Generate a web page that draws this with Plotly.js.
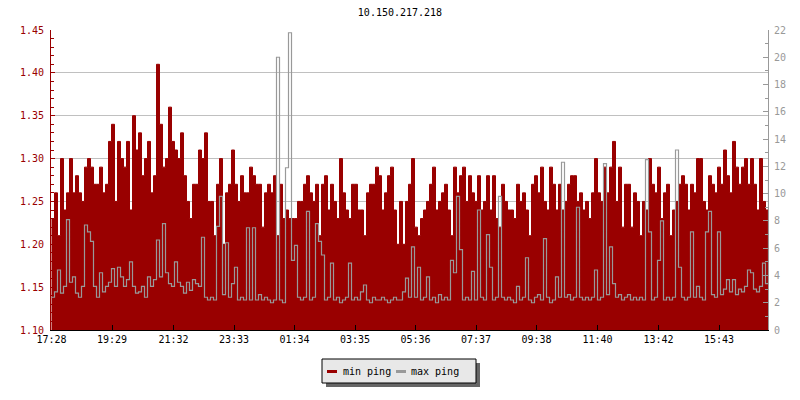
<!DOCTYPE html>
<html>
<head>
<meta charset="utf-8">
<script src="https://cdn.plot.ly/plotly-3.0.1.min.js"></script>
<style>
html, body { margin: 0; padding: 0; background: #ffffff; }
#chart { width: 800px; height: 400px; }
</style>
</head>
<body>
<div id="chart"></div>
<script>
const chartTitle = "10.150.217.218";
const startTime = "17:28";
const stepMinutes = 6;
const tickLabels = ["17:28","19:29","21:32","23:33","01:34","03:35","05:36","07:37","09:38","11:40","13:42","15:43"];
const seriesNames = ["min ping", "max ping"];

const minPing = [
1.23,1.26,1.21,1.30,1.24,1.26,1.30,1.26,1.28,1.26,
1.25,1.29,1.30,1.29,1.27,1.27,1.29,1.26,1.27,1.32,
1.34,1.25,1.32,1.30,1.29,1.32,1.24,1.35,1.31,1.33,
1.28,1.30,1.32,1.26,1.28,1.41,1.34,1.29,1.30,1.36,
1.32,1.31,1.30,1.33,1.28,1.25,1.23,1.27,1.27,1.31,
1.30,1.33,1.25,1.25,1.21,1.27,1.30,1.20,1.26,1.27,
1.31,1.27,1.25,1.28,1.26,1.26,1.29,1.28,1.27,1.27,
1.22,1.26,1.27,1.26,1.28,1.21,1.27,1.23,1.24,1.23,
1.23,1.23,1.25,1.25,1.27,1.28,1.26,1.25,1.27,1.21,
1.27,1.28,1.24,1.27,1.25,1.23,1.30,1.26,1.24,1.23,
1.27,1.27,1.24,1.24,1.21,1.26,1.27,1.27,1.29,1.28,
1.24,1.26,1.28,1.29,1.24,1.20,1.25,1.20,1.25,1.27,
1.30,1.22,1.21,1.23,1.24,1.25,1.27,1.29,1.24,1.25,
1.26,1.27,1.24,1.21,1.29,1.26,1.28,1.29,1.25,1.28,
1.26,1.25,1.28,1.24,1.25,1.28,1.24,1.28,1.23,1.22,
1.27,1.25,1.24,1.24,1.23,1.27,1.25,1.26,1.24,1.21,
1.27,1.28,1.26,1.29,1.25,1.24,1.29,1.27,1.24,1.27,
1.24,1.25,1.27,1.28,1.28,1.25,1.26,1.24,1.25,1.23,
1.26,1.30,1.26,1.25,1.29,1.26,1.29,1.32,1.25,1.29,
1.22,1.27,1.27,1.22,1.26,1.25,1.21,1.25,1.24,1.30,
1.27,1.26,1.29,1.23,1.26,1.27,1.21,1.24,1.25,1.27,
1.28,1.27,1.24,1.27,1.26,1.30,1.30,1.25,1.24,1.28,
1.27,1.26,1.29,1.27,1.31,1.28,1.26,1.32,1.29,1.27,
1.29,1.30,1.27,1.30,1.27,1.24,1.30,1.25,1.24,1.30
];

const maxPing = [
2.4,2.8,4.4,2.7,3.2,8.1,3.5,3.9,2.7,2.4,
3.2,7.7,7.2,6.5,3.2,2.4,4.2,2.8,3.2,3.5,
4.5,3.2,4.6,3.9,3.2,3.7,5.0,3.2,2.7,2.8,
3.2,2.4,3.9,3.2,3.7,6.6,3.9,7.8,4.2,3.4,
3.2,5.0,3.5,3.2,2.7,3.5,2.9,3.7,3.4,3.2,
6.8,2.4,2.2,2.4,2.2,7.6,9.8,2.6,6.4,2.4,
3.4,4.6,2.2,2.4,2.2,7.5,2.2,7.5,2.2,2.6,
2.2,2.4,2.2,2.0,2.2,20.0,2.2,2.0,11.9,21.8,
5.1,6.2,2.4,2.2,2.4,8.7,2.2,2.4,7.8,6.5,
5.5,2.2,2.4,4.9,2.2,2.4,2.0,2.2,2.4,4.9,
2.2,2.4,2.2,2.8,3.3,2.2,2.0,2.4,2.2,2.2,
2.4,2.2,2.0,2.2,2.4,2.2,2.2,2.8,3.8,2.4,
6.1,2.4,4.6,2.2,2.4,3.9,2.2,2.4,2.0,2.6,
2.2,2.4,2.2,5.1,4.2,9.8,5.9,2.2,2.4,2.2,
4.3,2.2,8.8,2.4,2.2,7.0,4.6,2.2,2.4,9.8,
2.4,2.2,2.4,2.2,2.0,3.2,2.2,2.4,5.3,2.2,
2.0,2.4,2.6,2.2,6.7,2.4,2.0,2.2,3.9,2.4,
12.3,2.4,2.6,2.2,2.4,9.0,2.4,2.2,2.4,2.2,
2.4,4.4,2.2,2.4,12.2,2.6,6.1,3.4,2.4,2.6,
2.2,2.4,2.6,2.2,2.4,2.2,2.4,2.2,12.5,7.2,
2.2,2.4,5.1,8.0,2.2,2.4,2.2,2.4,13.2,4.6,
2.4,2.2,2.4,7.2,2.4,3.2,2.4,2.2,7.2,8.7,
2.6,2.4,7.2,2.6,3.0,3.7,2.8,3.7,2.6,3.0,
2.8,3.2,4.4,4.2,3.0,2.8,3.2,4.9,3.4,11.0
];

const RED = "#990000";
const GRAY = "#999999";
const FONT = "DejaVu Sans Mono, monospace";

function toMin(s) { const p = s.split(":"); return (+p[0]) * 60 + (+p[1]); }
const t0 = toMin(startTime);
const tickVals = tickLabels.map(s => (toMin(s) - t0 + 1440) % 1440);
const xs = minPing.map((_, i) => i * stepMinutes);
const xEnd = (minPing.length - 1) * stepMinutes;

const traces = [
  {
    x: xs, y: minPing, name: seriesNames[0], type: "scatter", mode: "lines",
    line: { color: RED, width: 1, shape: "hv" },
    fill: "tozeroy", fillcolor: RED, yaxis: "y", hoverinfo: "skip", showlegend: false
  },
  {
    x: xs, y: maxPing, name: seriesNames[1], type: "scatter", mode: "lines",
    line: { color: GRAY, width: 1.2, shape: "hv" },
    yaxis: "y2", hoverinfo: "skip", showlegend: false
  }
];

// Legend box (drawn in pixel-based paper coordinates below the plot)
const PL = 51, PW = 717, PB = 330, PH = 300;
const px = v => (v - PL) / PW;
const py = v => (PB - v) / PH;
const legendShapes = [
  { type: "rect", xref: "paper", yref: "paper", x0: px(326), x1: px(480), y0: py(363), y1: py(387),
    fillcolor: "#666666", line: { width: 0 } },
  { type: "rect", xref: "paper", yref: "paper", x0: px(322), x1: px(476), y0: py(359), y1: py(383),
    fillcolor: "#e8e8e8", line: { color: "#000000", width: 1 } },
  { type: "line", xref: "paper", yref: "paper", x0: px(327), x1: px(337), y0: py(371.5), y1: py(371.5),
    line: { color: RED, width: 3 } },
  { type: "line", xref: "paper", yref: "paper", x0: px(396), x1: px(406), y0: py(371.5), y1: py(371.5),
    line: { color: GRAY, width: 3 } }
];
const legendNotes = [
  { text: seriesNames[0], xref: "paper", yref: "paper", x: px(341), y: py(371), xanchor: "left", yanchor: "middle",
    showarrow: false, font: { family: FONT, size: 10, color: "#000000" } },
  { text: seriesNames[1], xref: "paper", yref: "paper", x: px(409), y: py(371), xanchor: "left", yanchor: "middle",
    showarrow: false, font: { family: FONT, size: 10, color: "#000000" } }
];

const layout = {
  width: 800, height: 400,
  paper_bgcolor: "#ffffff", plot_bgcolor: "#ffffff",
  margin: { l: 51, r: 32, t: 30, b: 70, pad: 0 },
  font: { family: FONT, size: 10, color: "#000000" },
  title: { text: chartTitle, font: { family: FONT, size: 10, color: "#000000" },
           x: 0.5, xanchor: "center", y: 0.97, yanchor: "middle" },
  showlegend: false,
  shapes: legendShapes,
  annotations: legendNotes,
  xaxis: {
    range: [-1, xEnd - 1], tickvals: tickVals, ticktext: tickLabels,
    ticks: "inside", ticklen: 5, tickcolor: "#000000", tickwidth: 1,
    showline: true, linecolor: "#000000", linewidth: 1, mirror: false,
    showgrid: false, zeroline: false, fixedrange: true,
    tickfont: { family: FONT, size: 10, color: "#000000" }
  },
  yaxis: {
    range: [1.10, 1.45], tick0: 1.10, dtick: 0.05, tickformat: ".2f",
    ticks: "inside", ticklen: 4, tickcolor: RED, tickwidth: 1,
    showline: true, linecolor: RED, linewidth: 1,
    showgrid: true, gridcolor: "#c0c0c0", gridwidth: 1, zeroline: false,
    tickfont: { family: FONT, size: 10, color: RED },
    ticklabelstandoff: 4,
    minor: { dtick: 0.01, tick0: 1.10, ticks: "inside", ticklen: 3, tickcolor: RED, showgrid: false },
    fixedrange: true
  },
  yaxis2: {
    overlaying: "y", side: "right", range: [0, 22], tick0: 0, dtick: 2,
    ticks: "inside", ticklen: 5, tickcolor: GRAY, tickwidth: 1,
    showline: true, linecolor: GRAY, linewidth: 1,
    showgrid: false, zeroline: false,
    tickfont: { family: FONT, size: 10, color: GRAY },
    ticklabelstandoff: 3,
    minor: { dtick: 1, tick0: 0, ticks: "inside", ticklen: 3, tickcolor: GRAY, showgrid: false },
    fixedrange: true
  }
};

Plotly.newPlot("chart", traces, layout, { displayModeBar: false, staticPlot: true });
</script>
</body>
</html>
